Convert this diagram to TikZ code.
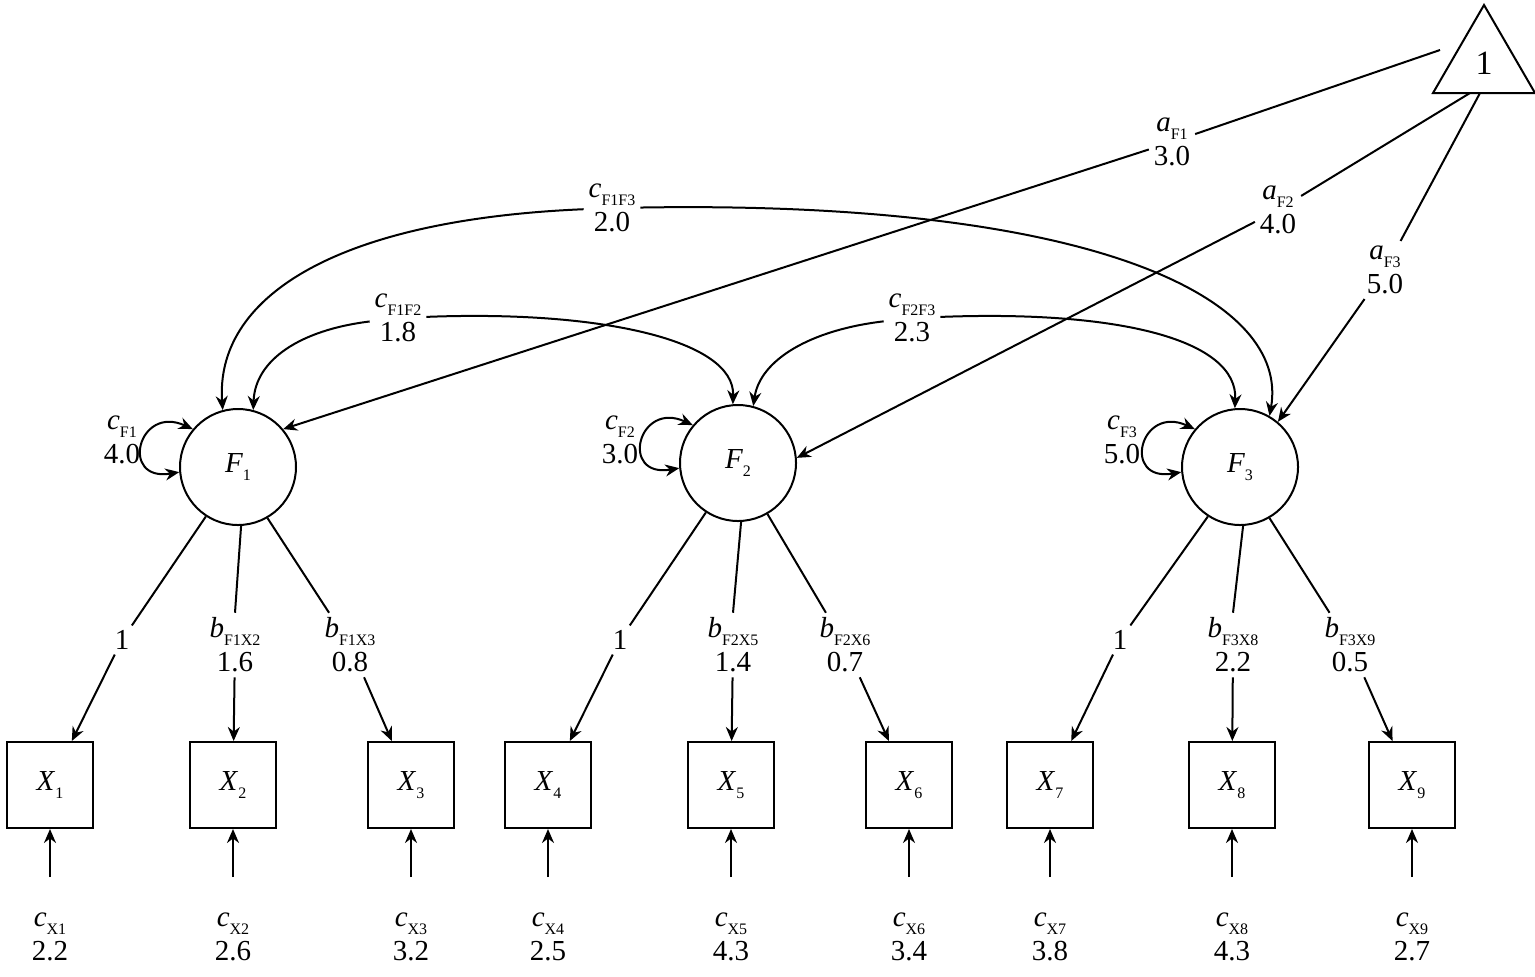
\documentclass[tikz,border=0pt]{standalone}
\usepackage{fontspec}
\setmainfont{Liberation Serif}
\usetikzlibrary{arrows.meta}
\newcommand\semlab[2]{\textit{#1}\raisebox{-.6ex}{\footnotesize #2}}
\begin{document}
\begin{tikzpicture}[x=0.5pt,y=-0.5pt,line width=1pt,>={Stealth[length=7pt,width=6pt]},
    font=\fontsize{14.5}{17}\selectfont]
    \tikzstyle{latent}=[draw,circle,minimum size=58pt,inner sep=0pt]
    \tikzstyle{manifest}=[draw,rectangle,minimum size=43pt,inner sep=0pt]
    \tikzstyle{lab}=[align=center,inner sep=2pt]
    \useasboundingbox (0,0) rectangle (1535,976);

    % mean constant
    \draw (1484,5) -- (1433,93) -- (1535,93) -- cycle;
    \node (one) at (1484,63) {\fontsize{17}{17}\selectfont 1};
    \coordinate (T1) at (1440,50);
    \coordinate (T2) at (1470,93);
    \coordinate (T3) at (1480,93);

    % latent factors
    \node[latent] (F1) at (238,467) {\semlab{F}{1}};
    \node[latent] (F2) at (738,463) {\semlab{F}{2}};
    \node[latent] (F3) at (1240,467) {\semlab{F}{3}};

    % indicators
    \foreach \i/\x in {1/50,2/233,3/411,4/548,5/731,6/909,7/1050,8/1232,9/1412}{
      \node[manifest] (X\i) at (\x,785) {\semlab{X}{\i}};
    }

    % means
    \node[lab] (aF1) at (1172,142) {\semlab{a}{F1}\\3.0};
    \node[lab] (aF2) at (1278,210) {\semlab{a}{F2}\\4.0};
    \node[lab] (aF3) at (1385,270) {\semlab{a}{F3}\\5.0};
    \draw (T1) -- (aF1); \draw[->] (aF1) -- (F1.40);
    \draw (T2) -- (aF2); \draw[->] (aF2) -- (F2.5);
    \draw (T3) -- (aF3); \draw[->] (aF3) -- (F3.50);

    % covariances
    \node[lab] (c13) at (612,208) {\semlab{c}{F1F3}\\2.0};
    \node[lab] (c12) at (398,318) {\semlab{c}{F1F2}\\1.8};
    \node[lab] (c23) at (912,318) {\semlab{c}{F2F3}\\2.3};
    \draw[->] (c13) .. controls (330,220) and (215,300) .. (F1.105);
    \draw[->] (c13) .. controls (1100,200) and (1290,300) .. (F3.60);
    \draw[->] (c12) .. controls (300,330) and (255,360) .. (F1.75);
    \draw[->] (c12) .. controls (600,310) and (735,340) .. (F2.95);
    \draw[->] (c23) .. controls (810,330) and (760,360) .. (F2.75);
    \draw[->] (c23) .. controls (1120,310) and (1238,340) .. (F3.95);

    % variances
    \foreach \f/\x/\v in {1/122/4.0,2/620/3.0,3/1122/5.0}{
      \node[lab] (cF\f) at (\x,440) {\semlab{c}{F\f}\\\v};
      \draw[<->] (F\f.140) .. controls +(-55,-25) and +(-60,10) .. (F\f.185);
    }

    % loadings
    \node[lab] (l1) at (122,640) {1};
    \node[lab] (b12) at (235,645) {\semlab{b}{F1X2}\\1.6};
    \node[lab] (b13) at (350,645) {\semlab{b}{F1X3}\\0.8};
    \node[lab] (l4) at (620,640) {1};
    \node[lab] (b25) at (733,645) {\semlab{b}{F2X5}\\1.4};
    \node[lab] (b26) at (845,645) {\semlab{b}{F2X6}\\0.7};
    \node[lab] (l7) at (1120,640) {1};
    \node[lab] (b38) at (1233,645) {\semlab{b}{F3X8}\\2.2};
    \node[lab] (b39) at (1350,645) {\semlab{b}{F3X9}\\0.5};
    \foreach \f/\a/\b/\c/\p/\q/\r in {F1/l1/b12/b13/X1/X2/X3,F2/l4/b25/b26/X4/X5/X6,F3/l7/b38/b39/X7/X8/X9}{
      \draw (\f.237) -- (\a); \draw[->] (\a) -- (\p);
      \draw (\f.273) -- (\b.north); \draw[->] (\b) -- (\q);
      \draw (\f.300) -- (\c); \draw[->] (\c) -- (\r);
    }

    % residuals
    \foreach \i/\x/\v in {1/50/2.2,2/233/2.6,3/411/3.2,4/548/2.5,5/731/4.3,6/909/3.4,7/1050/3.8,8/1232/4.3,9/1412/2.7}{
      \node[lab] (e\i) at (\x,937) {\semlab{c}{X\i}\\\v};
      \draw[->] ([yshift=-24pt]X\i.south) -- (X\i.south);
    }
\end{tikzpicture}
\end{document}
